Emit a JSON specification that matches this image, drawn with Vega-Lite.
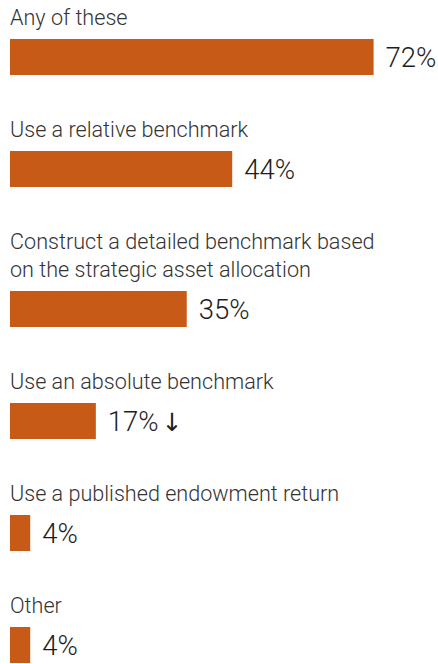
{
  "$schema": "https://vega.github.io/schema/vega-lite/v6.json",
  "background": "white",
  "padding": {"left": 10, "top": 8, "right": 0, "bottom": 0},
  "datasets": {
    "rows": [
      {"cat": "Any of these", "value": 72, "label": "72%", "arrow": ""},
      {"cat": "Use a relative benchmark", "value": 44, "label": "44%", "arrow": ""},
      {"cat": "Construct a detailed benchmark based on the strategic asset allocation", "value": 35, "label": "35%", "arrow": ""},
      {"cat": "Use an absolute benchmark", "value": 17, "label": "17%", "arrow": "↓"},
      {"cat": "Use a published endowment return", "value": 4, "label": "4%", "arrow": ""},
      {"cat": "Other", "value": 4, "label": "4%", "arrow": ""}
    ]
  },
  "data": {"name": "rows"},
  "spacing": 45,
  "config": {
    "view": {"stroke": null},
    "concat": {"spacing": 45},
    "title": {"anchor": "start", "font": "Roboto", "fontSize": 21.6, "fontWeight": 300, "color": "#333333", "baseline": "bottom", "offset": 9, "lineHeight": 28},
    "bar": {"color": "#C85A18"},
    "text": {"font": "Roboto", "fontSize": 27.5, "fontWeight": 300, "color": "#1e1e1e", "align": "left", "baseline": "middle", "dx": 12, "dy": 2}
  },
  "vconcat": [
    {
      "title": {"text": "Any of these"},
      "width": 404, "height": 36,
      "transform": [{"filter": "datum.cat === 'Any of these'"}],
      "encoding": {
        "x": {"field": "value", "type": "quantitative", "scale": {"domain": [0, 80]}, "axis": null},
        "y": {"field": "cat", "type": "nominal", "axis": null, "scale": {"paddingInner": 0, "paddingOuter": 0}}
      },
      "layer": [{"mark": "bar"}, {"mark": "text", "encoding": {"text": {"field": "label"}}}]
    },
    {
      "title": {"text": "Use a relative benchmark"},
      "width": 404, "height": 36,
      "transform": [{"filter": "datum.cat === 'Use a relative benchmark'"}],
      "encoding": {
        "x": {"field": "value", "type": "quantitative", "scale": {"domain": [0, 80]}, "axis": null},
        "y": {"field": "cat", "type": "nominal", "axis": null, "scale": {"paddingInner": 0, "paddingOuter": 0}}
      },
      "layer": [{"mark": "bar"}, {"mark": "text", "encoding": {"text": {"field": "label"}}}]
    },
    {
      "title": {"text": ["Construct a detailed benchmark based", "on the strategic asset allocation"]},
      "width": 404, "height": 36,
      "transform": [{"filter": "datum.cat === 'Construct a detailed benchmark based on the strategic asset allocation'"}],
      "encoding": {
        "x": {"field": "value", "type": "quantitative", "scale": {"domain": [0, 80]}, "axis": null},
        "y": {"field": "cat", "type": "nominal", "axis": null, "scale": {"paddingInner": 0, "paddingOuter": 0}}
      },
      "layer": [{"mark": "bar"}, {"mark": "text", "encoding": {"text": {"field": "label"}}}]
    },
    {
      "title": {"text": "Use an absolute benchmark"},
      "width": 404, "height": 36,
      "transform": [{"filter": "datum.cat === 'Use an absolute benchmark'"}],
      "encoding": {
        "x": {"field": "value", "type": "quantitative", "scale": {"domain": [0, 80]}, "axis": null},
        "y": {"field": "cat", "type": "nominal", "axis": null, "scale": {"paddingInner": 0, "paddingOuter": 0}}
      },
      "layer": [
        {"mark": "bar"},
        {"mark": "text", "encoding": {"text": {"field": "label"}}},
        {"mark": {"type": "text", "font": "DejaVu Sans", "fontSize": 25, "fontWeight": "normal", "color": "#1e1e1e", "dx": 66}, "encoding": {"text": {"field": "arrow"}}}
      ]
    },
    {
      "title": {"text": "Use a published endowment return"},
      "width": 404, "height": 36,
      "transform": [{"filter": "datum.cat === 'Use a published endowment return'"}],
      "encoding": {
        "x": {"field": "value", "type": "quantitative", "scale": {"domain": [0, 80]}, "axis": null},
        "y": {"field": "cat", "type": "nominal", "axis": null, "scale": {"paddingInner": 0, "paddingOuter": 0}}
      },
      "layer": [{"mark": "bar"}, {"mark": "text", "encoding": {"text": {"field": "label"}}}]
    },
    {
      "title": {"text": "Other"},
      "width": 404, "height": 36,
      "transform": [{"filter": "datum.cat === 'Other'"}],
      "encoding": {
        "x": {"field": "value", "type": "quantitative", "scale": {"domain": [0, 80]}, "axis": null},
        "y": {"field": "cat", "type": "nominal", "axis": null, "scale": {"paddingInner": 0, "paddingOuter": 0}}
      },
      "layer": [{"mark": "bar"}, {"mark": "text", "encoding": {"text": {"field": "label"}}}]
    }
  ]
}
